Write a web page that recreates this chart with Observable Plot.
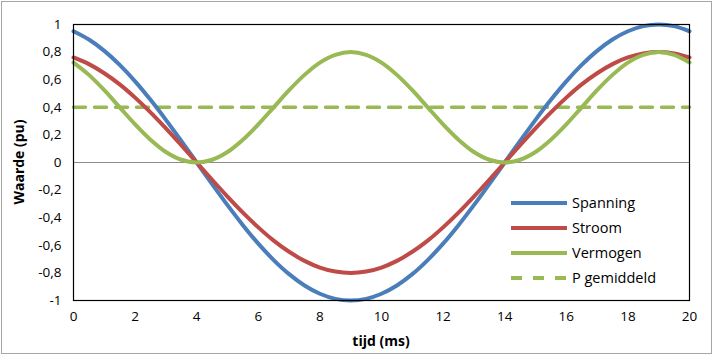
<!DOCTYPE html>
<html>
<head>
<meta charset="utf-8">
<script src="https://cdn.jsdelivr.net/npm/d3@7"></script>
<script src="https://cdn.jsdelivr.net/npm/@observablehq/plot@0.6"></script>
<style>
  html, body { margin: 0; padding: 0; background: #fff; }
  #wrap { position: relative; width: 715px; height: 357px; font-family: "Open Sans", "Noto Sans", sans-serif; }
  #border { position: absolute; left: 1px; top: 1px; width: 709px; height: 351px; border: 1.5px solid #a6a6a6; pointer-events: none; }
  .axtitle { position: absolute; font-weight: bold; font-size: 14px; color: #000; white-space: nowrap; }
  #legend { position: absolute; left: 508px; top: 190px; font-size: 14.5px; color: #000; }
  .lrow { display: flex; align-items: center; height: 25px; }
  .lrow svg { margin-right: 4px; }
</style>
</head>
<body>
<div id="wrap"></div>
<script>
// time axis (ms)
const tijd = [0,0.5,1,1.5,2,2.5,3,3.5,4,4.5,5,5.5,6,6.5,7,7.5,8,8.5,9,9.5,10,10.5,11,11.5,12,12.5,13,13.5,14,14.5,15,15.5,16,16.5,17,17.5,18,18.5,19,19.5,20];
// Spanning (voltage, pu)
const spanning = [0.951,0.891,0.809,0.707,0.588,0.454,0.309,0.156,0,-0.156,-0.309,-0.454,-0.588,-0.707,-0.809,-0.891,-0.951,-0.988,-1,-0.988,-0.951,-0.891,-0.809,-0.707,-0.588,-0.454,-0.309,-0.156,0,0.156,0.309,0.454,0.588,0.707,0.809,0.891,0.951,0.988,1,0.988,0.951];
// Stroom (current, pu)
const stroom = [0.761,0.713,0.647,0.566,0.470,0.363,0.247,0.125,0,-0.125,-0.247,-0.363,-0.470,-0.566,-0.647,-0.713,-0.761,-0.790,-0.8,-0.790,-0.761,-0.713,-0.647,-0.566,-0.470,-0.363,-0.247,-0.125,0,0.125,0.247,0.363,0.470,0.566,0.647,0.713,0.761,0.790,0.8,0.790,0.761];
// Vermogen (power, pu)
const vermogen = [0.724,0.635,0.524,0.4,0.276,0.165,0.076,0.020,0,0.020,0.076,0.165,0.276,0.4,0.524,0.635,0.724,0.780,0.8,0.780,0.724,0.635,0.524,0.4,0.276,0.165,0.076,0.020,0,0.020,0.076,0.165,0.276,0.4,0.524,0.635,0.724,0.780,0.8,0.780,0.724];
// P gemiddeld (average power)
const pGemiddeld = [0.4, 0.4];
const pGemTijd = [0, 20];

const seriesNames = ["Spanning", "Stroom", "Vermogen", "P gemiddeld"];
const seriesColors = ["#4a7ebb", "#be4b48", "#98b954", "#98b954"];
const xTicks = [0,2,4,6,8,10,12,14,16,18,20];
const yTicks = [-1,-0.8,-0.6,-0.4,-0.2,0,0.2,0.4,0.6,0.8,1];
const xTitle = "tijd (ms)";
const yTitle = "Waarde (pu)";

const fmt = d => String(d).replace(".", ",");
const mk = arr => tijd.map((t, i) => ({t, v: arr[i]}));

const chart = Plot.plot({
  width: 715,
  height: 357,
  marginLeft: 73,
  marginRight: 26,
  marginTop: 24,
  marginBottom: 57,
  style: { fontFamily: '"Open Sans", "Noto Sans", sans-serif', fontSize: "13.5px", color: "#000", background: "transparent" },
  x: { domain: [0, 20], ticks: xTicks, tickFormat: fmt, tickSize: 0, tickPadding: 11, label: null },
  y: { domain: [-1, 1], ticks: yTicks, tickFormat: fmt, tickSize: 0, tickPadding: 12, label: null },
  marks: [
    Plot.ruleY([0], { stroke: "#8c8c8c", strokeWidth: 1 }),
    Plot.lineY(pGemTijd.map((t, i) => ({t, v: pGemiddeld[i]})), { x: "t", y: "v", stroke: seriesColors[3], strokeWidth: 3.5, strokeDasharray: "12,9" }),
    Plot.line(mk(spanning), { x: "t", y: "v", stroke: seriesColors[0], strokeWidth: 4, curve: "catmull-rom" }),
    Plot.line(mk(stroom), { x: "t", y: "v", stroke: seriesColors[1], strokeWidth: 4, curve: "catmull-rom" }),
    Plot.line(mk(vermogen), { x: "t", y: "v", stroke: seriesColors[2], strokeWidth: 4, curve: "catmull-rom" }),
    Plot.frame({ stroke: "#000", strokeWidth: 1.2 })
  ]
});

const wrap = document.getElementById("wrap");
wrap.appendChild(chart);

const border = document.createElement("div");
border.id = "border";
wrap.appendChild(border);

const xt = document.createElement("div");
xt.className = "axtitle";
xt.textContent = xTitle;
xt.style.left = "381px"; xt.style.top = "340px";
xt.style.transform = "translate(-50%, -50%)";
wrap.appendChild(xt);

const yt = document.createElement("div");
yt.className = "axtitle";
yt.textContent = yTitle;
yt.style.left = "18px"; yt.style.top = "162px";
yt.style.transform = "translate(-50%, -50%) rotate(-90deg)";
wrap.appendChild(yt);

const legend = document.createElement("div");
legend.id = "legend";
seriesNames.forEach((name, i) => {
  const row = document.createElement("div");
  row.className = "lrow";
  const dash = i === 3 ? ' stroke-dasharray="11,11"' : '';
  row.innerHTML = `<svg width="60" height="8"><line x1="3" y1="4" x2="59" y2="4" stroke="${seriesColors[i]}" stroke-width="4"${dash}/></svg><span>${name}</span>`;
  legend.appendChild(row);
});
wrap.appendChild(legend);
</script>
</body>
</html>
